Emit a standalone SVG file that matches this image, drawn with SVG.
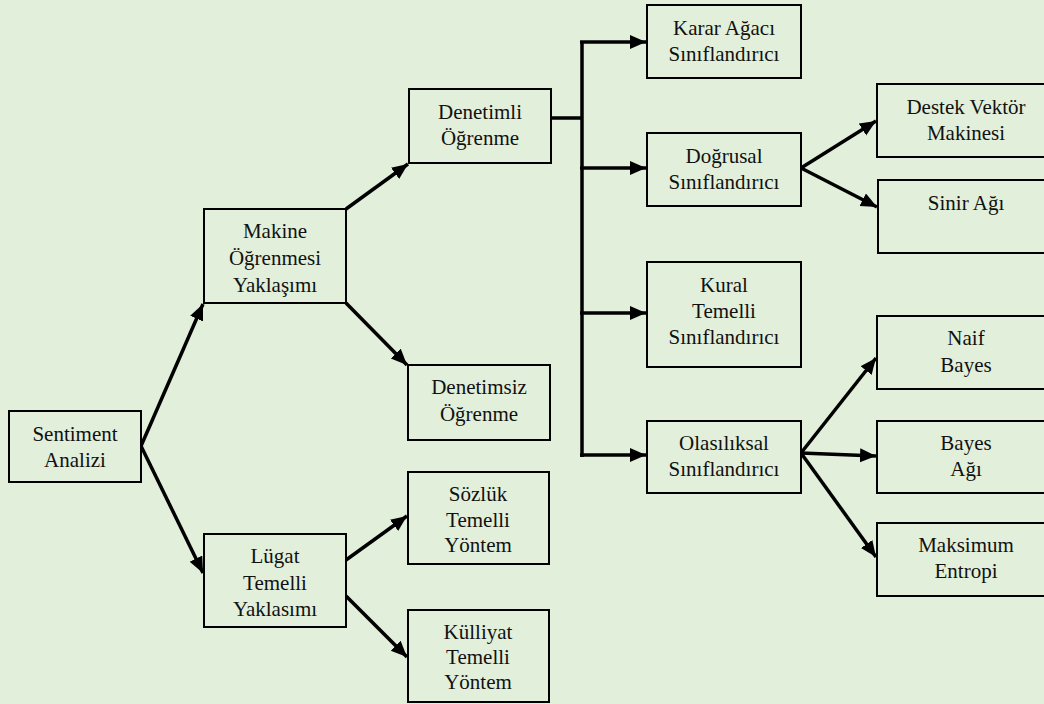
<svg xmlns="http://www.w3.org/2000/svg" width="1044" height="704" viewBox="0 0 1044 704">
<defs>
<marker id="ah" markerUnits="userSpaceOnUse" markerWidth="18" markerHeight="16" refX="16" refY="7" orient="auto">
<path d="M0,0 L16,7 L0,14 z" fill="#000"/>
</marker>
<style>
.bx{fill:#E2EFDA;stroke:#000;stroke-width:2}
.t{font-size:21px;fill:#111;text-anchor:middle}
.c{fill:none;stroke:#000;stroke-width:3.5}
.a{fill:none;stroke:#000;stroke-width:3.5;marker-end:url(#ah)}
</style>
</defs>
<rect x="0" y="0" width="1044" height="704" fill="#E2EFDA"/>
<g id="connectors">
<path class="a" d="M141,446 L203,304"/>
<path class="a" d="M141,446 L203,573"/>
<path class="a" d="M346,209 L408,164"/>
<path class="a" d="M346,303 L407,365"/>
<path class="a" d="M346,560 L407,516"/>
<path class="a" d="M346,596 L407,657"/>
<path class="c" d="M551,118 L582,118 M582,41 L582,457"/>
<path class="a" d="M580,42 L646,42"/>
<path class="a" d="M580,168 L646,168"/>
<path class="a" d="M580,313 L646,313"/>
<path class="a" d="M580,455 L646,455"/>
<path class="a" d="M801,168 L876,121"/>
<path class="a" d="M801,168 L877,207"/>
<path class="a" d="M801,453 L876,358"/>
<path class="a" d="M801,453 L876,456"/>
<path class="a" d="M801,453 L876,557"/>
</g>
<g font-family="Liberation Serif, Times New Roman, DejaVu Serif, serif">
<g id="sentiment">
<rect class="bx" x="9" y="411" width="132" height="71"/>
<text class="t" x="75" y="441">Sentiment</text>
<text class="t" x="75" y="467">Analizi</text>
</g>
<g id="makine">
<rect class="bx" x="204" y="209" width="142" height="94"/>
<text class="t" x="275" y="238">Makine</text>
<text class="t" x="275" y="265">Öğrenmesi</text>
<text class="t" x="275" y="292">Yaklaşımı</text>
</g>
<g id="lugat">
<rect class="bx" x="204" y="534" width="142" height="93"/>
<text class="t" x="275" y="563">Lügat</text>
<text class="t" x="275" y="590">Temelli</text>
<text class="t" x="275" y="616">Yaklasımı</text>
</g>
<g id="denetimli">
<rect class="bx" x="409" y="89" width="142" height="74"/>
<text class="t" x="480" y="119">Denetimli</text>
<text class="t" x="480" y="145">Öğrenme</text>
</g>
<g id="denetimsiz">
<rect class="bx" x="408" y="365" width="142" height="75"/>
<text class="t" x="479" y="394">Denetimsiz</text>
<text class="t" x="479" y="421">Öğrenme</text>
</g>
<g id="sozluk">
<rect class="bx" x="408" y="472" width="141" height="92"/>
<text class="t" x="478" y="501">Sözlük</text>
<text class="t" x="478" y="527">Temelli</text>
<text class="t" x="478" y="552">Yöntem</text>
</g>
<g id="kulliyat">
<rect class="bx" x="408" y="610" width="141" height="92"/>
<text class="t" x="478" y="639">Külliyat</text>
<text class="t" x="478" y="664">Temelli</text>
<text class="t" x="478" y="689">Yöntem</text>
</g>
<g id="karar">
<rect class="bx" x="647" y="5" width="154" height="73"/>
<text class="t" x="724" y="35">Karar Ağacı</text>
<text class="t" x="724" y="61">Sınıflandırıcı</text>
</g>
<g id="dogrusal">
<rect class="bx" x="647" y="133" width="154" height="73"/>
<text class="t" x="724" y="163">Doğrusal</text>
<text class="t" x="724" y="189">Sınıflandırıcı</text>
</g>
<g id="kural">
<rect class="bx" x="647" y="262" width="154" height="105"/>
<text class="t" x="724" y="292">Kural</text>
<text class="t" x="724" y="318">Temelli</text>
<text class="t" x="724" y="344">Sınıflandırıcı</text>
</g>
<g id="olasiliksal">
<rect class="bx" x="647" y="421" width="154" height="72"/>
<text class="t" x="724" y="450">Olasılıksal</text>
<text class="t" x="724" y="476">Sınıflandırıcı</text>
</g>
<g id="destek">
<rect class="bx" x="877" y="84" width="178" height="73"/>
<text class="t" x="966" y="114">Destek Vektör</text>
<text class="t" x="966" y="140">Makinesi</text>
</g>
<g id="sinir">
<rect class="bx" x="878" y="180" width="178" height="73"/>
<text class="t" x="966" y="210">Sinir Ağı</text>
</g>
<g id="naif">
<rect class="bx" x="877" y="316" width="178" height="73"/>
<text class="t" x="966" y="345">Naif</text>
<text class="t" x="966" y="372">Bayes</text>
</g>
<g id="bayesagi">
<rect class="bx" x="877" y="421" width="178" height="72"/>
<text class="t" x="966" y="450">Bayes</text>
<text class="t" x="966" y="476">Ağı</text>
</g>
<g id="maksimum">
<rect class="bx" x="877" y="523" width="178" height="73"/>
<text class="t" x="966" y="552">Maksimum</text>
<text class="t" x="966" y="578">Entropi</text>
</g>
</g>
</svg>
